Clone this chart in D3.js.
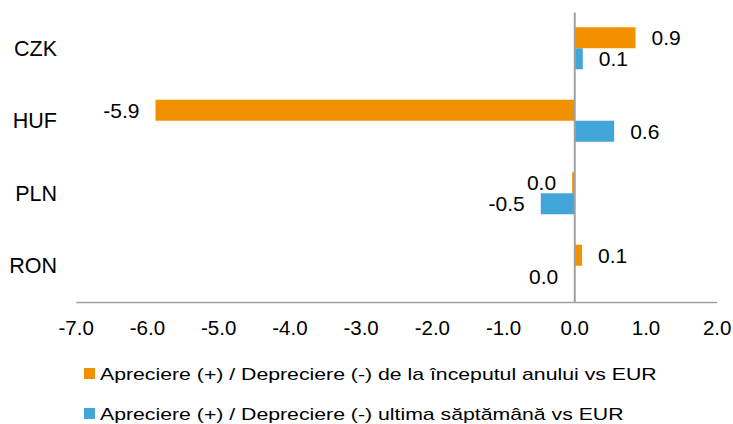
<!DOCTYPE html>
<html>
<head>
<meta charset="utf-8">
<script src="https://cdn.jsdelivr.net/npm/d3@7"></script>
<style>
  html, body { margin: 0; padding: 0; background: #fff; }
  svg text { font-family: "Liberation Sans", Arial, sans-serif; fill: #000; }
</style>
</head>
<body>
<svg id="chart" width="733" height="424"></svg>
<script>
const categories = ["CZK", "HUF", "PLN", "RON"];
const seriesNames = [
  "Apreciere (+) / Depreciere (-) de la începutul anului vs EUR",
  "Apreciere (+) / Depreciere (-) ultima săptămână vs EUR"
];
const ytdValues = [0.86, -5.88, -0.03, 0.11];
const weekValues = [0.12, 0.56, -0.47, 0.0];
const xTicks = [-7, -6, -5, -4, -3, -2, -1, 0, 1, 2];
const colors = ["#F29100", "#41A5D7"];

const svg = d3.select("#chart");
const fmt = d3.formatLocale({decimal: ".", thousands: ",", grouping: [3], currency: ["", ""], minus: "-"}).format(".1f");

const x = d3.scaleLinear().domain([-7, 2]).range([75.7, 716.7]);
const y = d3.scaleBand().domain(categories).range([12, 302]).paddingInner(0.42).paddingOuter(0.21);
const ySub = d3.scaleBand().domain([0, 1]).range([0, y.bandwidth()]);

const data = categories.map((c, i) => ({cat: c, vals: [ytdValues[i], weekValues[i]]}));

// bars
const groups = svg.append("g").selectAll("g").data(data).join("g")
  .attr("transform", d => `translate(0,${y(d.cat)})`);
groups.selectAll("rect").data(d => d.vals.map((v, k) => ({v, k}))).join("rect")
  .attr("x", d => x(Math.min(0, d.v)))
  .attr("width", d => Math.abs(x(d.v) - x(0)))
  .attr("y", d => ySub(d.k))
  .attr("height", ySub.bandwidth())
  .attr("fill", d => colors[d.k]);

// value labels
groups.selectAll("text.val").data(d => d.vals.map((v, k) => ({v, k}))).join("text")
  .attr("class", "val")
  .attr("x", d => d.v > 0 ? x(d.v) + 16 : x(Math.min(0, d.v)) - 16)
  .attr("y", d => ySub(d.k) + ySub.bandwidth() / 2)
  .attr("dy", "0.35em")
  .attr("text-anchor", d => d.v > 0 ? "start" : "end")
  .style("font-size", "21px")
  .text(d => fmt(d.v));

// x axis
const xAxis = d3.axisBottom(x).tickValues(xTicks).tickSize(0).tickPadding(18.4).tickFormat(fmt);
const gx = svg.append("g").attr("transform", "translate(0,302)").call(xAxis);
gx.select(".domain").attr("stroke", "#a0a0a0").attr("stroke-width", 1.5);
gx.selectAll(".tick text").style("font-size", "20.5px").attr("fill", "#000");

// y axis (at zero)
const yAxis = d3.axisLeft(y).tickSize(0).tickFormat("");
const gy = svg.append("g").attr("transform", `translate(${x(0)},0)`).call(yAxis);
gy.select(".domain").attr("stroke", "#a0a0a0").attr("stroke-width", 2);

// category labels
svg.append("g").selectAll("text").data(categories).join("text")
  .attr("x", 57)
  .attr("y", d => y(d) + y.bandwidth() / 2)
  .attr("dy", "0.35em")
  .attr("text-anchor", "end")
  .style("font-size", "21.5px")
  .text(d => d);

// legend
const legend = svg.append("g").selectAll("g").data(seriesNames).join("g")
  .attr("transform", (d, i) => `translate(84,${368 + i * 40})`);
legend.append("rect").attr("width", 11).attr("height", 11).attr("fill", (d, i) => colors[i]);
legend.append("text")
  .attr("transform", "translate(16,6) scale(1.25,1)")
  .attr("dy", "0.35em")
  .style("font-size", "17px").text(d => d);
</script>
</body>
</html>
